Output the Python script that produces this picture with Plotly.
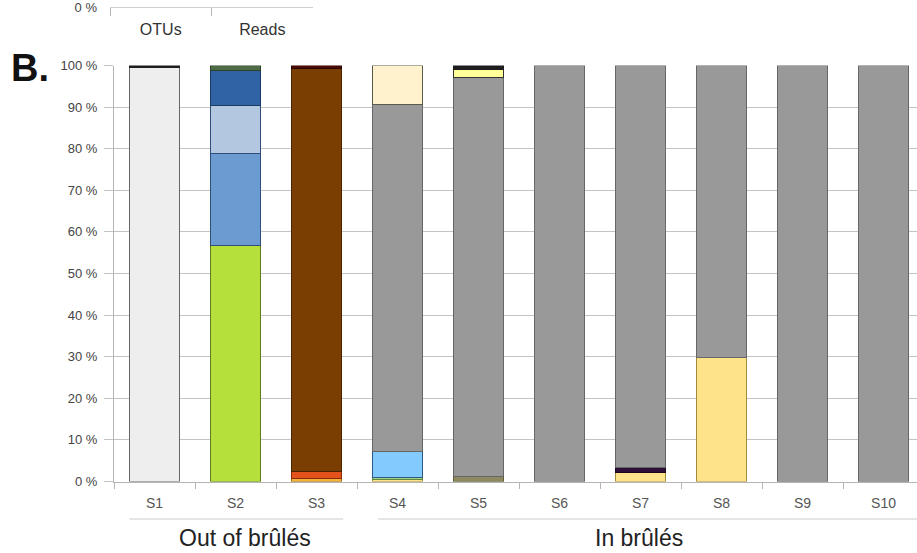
import plotly.graph_objects as go

W, H = 917, 553

samples = ["S1", "S2", "S3", "S4", "S5", "S6", "S7", "S8", "S9", "S10"]
panel_a_categories = ["OTUs", "Reads"]
y_ticks = list(range(0, 101, 10))
y_tick_text = [f"{v} %" for v in y_ticks]

# Relative read abundance (%) of each taxon per sample, stacked bottom -> top
t_yellow    = [None, None, None, 0.4, None, None, 2.1, 29.9, None, None]
t_amber     = [None, None, 0.7, None, None, None, None, None, None, None]
t_green     = [None, None, None, 0.6, None, None, None, None, None, None]
t_olive     = [None, None, None, None, 1.2, None, None, None, None, None]
t_orange    = [None, None, 1.6, None, None, None, None, None, None, None]
t_purple    = [None, None, None, None, None, None, 1.2, None, None, None]
t_sky       = [None, None, None, 6.3, None, None, None, None, None, None]
t_lime      = [None, 56.7, None, None, None, None, None, None, None, None]
t_blue      = [None, 22.1, None, None, None, None, None, None, None, None]
t_paleblue  = [None, 11.6, None, None, None, None, None, None, None, None]
t_navy      = [None, 8.4, None, None, None, None, None, None, None, None]
t_moss      = [None, 1.2, None, None, None, None, None, None, None, None]
t_brown     = [None, None, 96.9, None, None, None, None, None, None, None]
t_maroon    = [None, None, 0.8, None, None, None, None, None, None, None]
t_gray      = [None, None, None, 83.3, 95.8, 100, 96.7, 70.1, 100, 100]
t_silver    = [99.6, None, None, None, None, None, None, None, None, None]
t_cream     = [None, None, None, 9.4, None, None, None, None, None, None]
t_lemon     = [None, None, None, None, 2.0, None, None, None, None, None]
t_black     = [0.4, None, None, None, 1.0, None, None, None, None, None]

series = [
    ("Taxon 1", t_yellow, "#FFE38A", "#A08A3C"),
    ("Taxon 2", t_amber, "#F2B43C", "#A06A10"),
    ("Taxon 3", t_green, "#A9D18E", "#5E8A3A"),
    ("Taxon 4", t_olive, "#8C8A5E", "#5E5C3A"),
    ("Taxon 5", t_orange, "#E4531B", "#8A2A08"),
    ("Taxon 6", t_purple, "#2D0F38", "#1A0520"),
    ("Taxon 7", t_sky, "#83CAFF", "#2A5A8A"),
    ("Taxon 8", t_lime, "#B5E03B", "#5E7A1A"),
    ("Taxon 9", t_blue, "#6C9BD2", "#2F4F7A"),
    ("Taxon 10", t_paleblue, "#B4C7E0", "#2F4F7A"),
    ("Taxon 11", t_navy, "#2F63A6", "#1A3A66"),
    ("Taxon 12", t_moss, "#4E6B48", "#2E4028"),
    ("Taxon 13", t_brown, "#7A3D02", "#4A2400"),
    ("Taxon 14", t_maroon, "#4B0B00", "#2A0500"),
    ("Taxon 15", t_gray, "#999999", "#666666"),
    ("Taxon 16", t_silver, "#EEEEEE", "#666666"),
    ("Taxon 17", t_cream, "#FFF2CC", "#5A5A4A"),
    ("Taxon 18", t_lemon, "#FFFF99", "#333333"),
    ("Taxon 19", t_black, "#1E1E1E", "#1E1E1E"),
]

FONT = "Liberation Sans, Arial, sans-serif"
GRID = "#c4c4c4"
AXIS = "#b5b5b5"

fig = go.Figure()
for name, vals, fill, edge in series:
    fig.add_trace(go.Bar(
        x=samples, y=vals, name=name,
        marker=dict(color=fill, line=dict(color=edge, width=1)),
        showlegend=False,
    ))

# Empty trace keeps the upper (panel A) axis pair alive
fig.add_trace(go.Bar(x=panel_a_categories, y=[None, None],
                     xaxis="x2", yaxis="y2", showlegend=False))


def px_x(p):
    return p / W


def px_y(p):
    return 1 - p / H


x_left = 114
step = 81.0
x_max = -0.5 + (W - x_left) / step

fig.update_layout(
    width=W, height=H,
    margin=dict(l=0, r=0, t=0, b=0),
    paper_bgcolor="white", plot_bgcolor="white",
    barmode="stack", bargap=0.38,
    font=dict(family=FONT, color="#444444"),
    xaxis=dict(
        domain=[px_x(x_left), 1], range=[-0.5, x_max],
        type="category", categoryorder="array", categoryarray=samples,
        tickson="boundaries", ticks="outside", ticklen=6, tickcolor=AXIS,
        showline=True, linecolor=AXIS, showgrid=False,
        tickfont=dict(size=14, color="#555555", family=FONT),
        ticklabelstandoff=9, automargin=False,
        fixedrange=True,
    ),
    yaxis=dict(
        domain=[px_y(481.5), px_y(65.5)], range=[0, 100],
        tickmode="array", tickvals=y_ticks, ticktext=y_tick_text,
        showgrid=True, gridcolor=GRID, gridwidth=1,
        ticks="outside", ticklen=9, tickcolor=GRID,
        showline=True, linecolor=AXIS, zeroline=False,
        tickfont=dict(size=13, color="#444444", family=FONT),
        ticklabelstandoff=4, automargin=False,
        fixedrange=True,
    ),
    xaxis2=dict(
        domain=[px_x(110), px_x(313)], anchor="y2",
        type="category", categoryorder="array", categoryarray=panel_a_categories,
        range=[-0.5, 1.5],
        tickson="boundaries", ticks="outside", ticklen=8, tickcolor=AXIS,
        showline=True, linecolor="#d0d0d0", showgrid=False,
        tickfont=dict(size=16, color="#333333", family=FONT),
        ticklabelstandoff=8, automargin=False,
    ),
    yaxis2=dict(
        domain=[px_y(7), 1], anchor="x2", range=[0, 100],
        tickmode="array", tickvals=[0], ticktext=["0 %"],
        showgrid=False, showline=False, zeroline=False, ticks="",
        tickfont=dict(size=13, color="#444444", family=FONT),
        ticklabelstandoff=12, automargin=False,
        ticklabeloverflow="allow",
    ),
)

# Panel letter
fig.add_annotation(text="<b>B.</b>", xref="paper", yref="paper",
                   x=px_x(9), y=px_y(68), xanchor="left", yanchor="middle",
                   showarrow=False, font=dict(size=38, color="#111111", family=FONT))

# Sample group brackets and labels
groups = [
    ("Out of brûlés", -0.31, 2.33, 1.12),
    ("In brûlés", 2.76, x_max, 5.98),
]
for label, g0, g1, gc in groups:
    fig.add_shape(type="line", xref="x", yref="paper",
                  x0=g0, x1=g1, y0=px_y(519), y1=px_y(519),
                  line=dict(color="#cccccc", width=1))
    fig.add_annotation(text=label, xref="x", yref="paper",
                       x=gc, y=px_y(538), xanchor="center", yanchor="middle",
                       showarrow=False, font=dict(size=23, color="#222222", family=FONT))

fig.write_html("out.html")
